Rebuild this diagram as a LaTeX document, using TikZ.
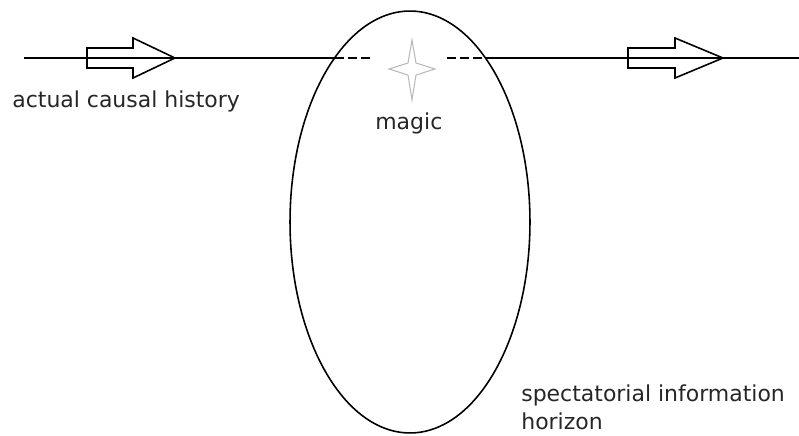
\documentclass[tikz,border=0pt]{standalone}
\usepackage{fontspec}
\setmainfont{DejaVu Sans}
\usetikzlibrary{shapes.geometric}

\begin{document}
\begin{tikzpicture}[x=0.02cm, y=-0.02cm,
            wire/.style={line width=1pt},
            inside/.style={wire, dash pattern=on 5pt off 2.4pt},
            blockarr/.style={line width=0.9pt, line join=miter},
            spark/.style={draw=gray!55, line width=0.6pt},
            horizon/.style={draw, ellipse, line width=0.9pt, inner sep=0pt,
                    minimum width=4.8cm, minimum height=8.44cm},
            lbl/.style={font=\fontsize{12.5}{15.5}\selectfont, text=black!85,
                    inner sep=0pt, anchor=base west, align=left}]

        \useasboundingbox (0,0) rectangle (799,436);

        % the horizon
        \node[horizon] (hz) at (410,222) {};

        % causal line, dashed inside the horizon
        \coordinate (start) at (24,58);
        \coordinate (enter) at (335,58);
        \coordinate (gapl)  at (373,58);
        \coordinate (gapr)  at (447,58);
        \coordinate (leave) at (485,58);
        \coordinate (end)   at (799,58);

        \draw[wire]   (start) -- (enter);
        \draw[inside] (enter) -- (gapl);
        \draw[inside] (gapr) -- (leave);
        \draw[wire]   (leave) -- (end);

        % hollow arrows on the line
        \foreach \tail/\neck/\tip in {87/133/175, 628/675/723}
            \draw[blockarr] (\tail,48) -- (\neck,48) -- (\neck,38) -- (\tip,58)
                -- (\neck,78) -- (\neck,68) -- (\tail,68) -- cycle;

        % the star
        \draw[spark] (412,40) -- (416,63) -- (435,69) -- (416,75) -- (412,100)
            -- (408,75) -- (389,69) -- (408,63) -- cycle;

        \node[lbl] (history) at (12,108) {actual causal history};
        \node[lbl] (magic) at (375,129) {magic};
        % base anchor sits on the last line here
        \node[lbl] (horizonlbl) at (521,429) {spectatorial information\\horizon};
    \end{tikzpicture}
\end{document}
